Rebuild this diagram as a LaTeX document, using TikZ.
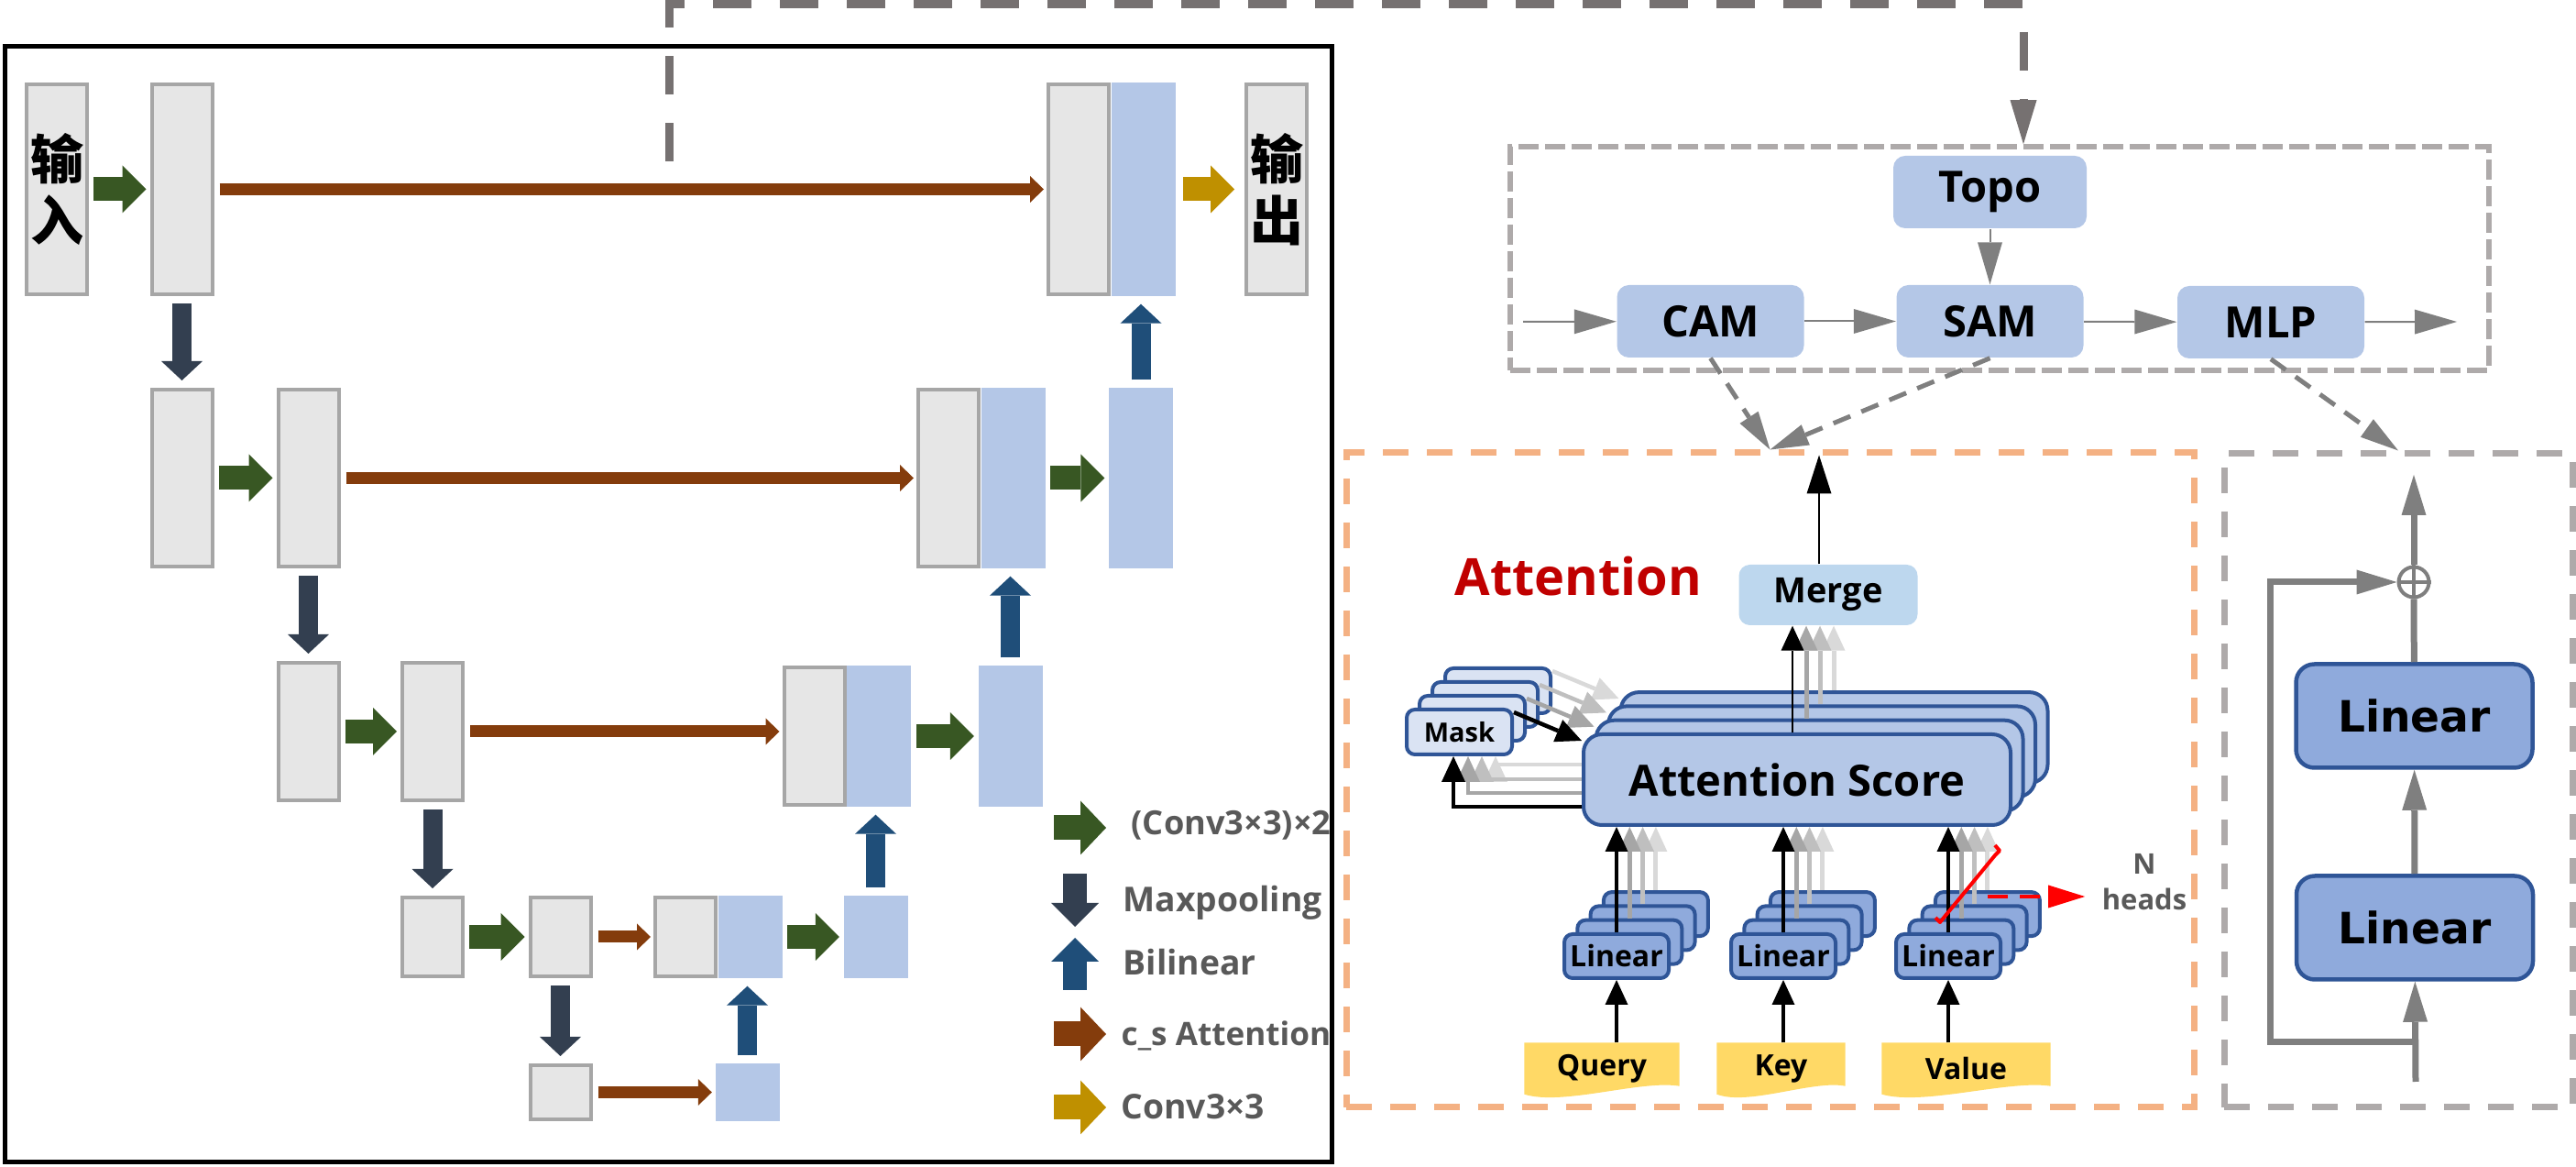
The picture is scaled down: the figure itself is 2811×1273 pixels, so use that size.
\documentclass[tikz,border=0pt]{standalone}
\usepackage{fontspec}
\setmainfont{Open Sans}
\newfontfamily\cjkfont{Noto Sans CJK SC}
\newfontfamily\wideface{DejaVu Sans}
\usepackage{tikz}
\usetikzlibrary{arrows.meta}
\usetikzlibrary{positioning}
\usetikzlibrary{backgrounds}
\usetikzlibrary{calc}

\definecolor{mapgray}{HTML}{E6E6E6}
\definecolor{mapedge}{HTML}{A6A6A6}
\definecolor{mapblue}{HTML}{B4C7E7}
\definecolor{convgreen}{HTML}{385723}
\definecolor{pooldark}{HTML}{333F50}
\definecolor{upblue}{HTML}{1F4E79}
\definecolor{attbrown}{HTML}{843C0C}
\definecolor{outgold}{HTML}{BF9000}
\definecolor{legtext}{HTML}{595959}
\definecolor{linkgray}{HTML}{767171}
\definecolor{boxgray}{HTML}{AEAAAA}
\definecolor{attorange}{HTML}{F4B183}
\definecolor{arrgray}{HTML}{7F7F7F}
\definecolor{attred}{HTML}{C00000}
\definecolor{mergeblue}{HTML}{BDD7EE}
\definecolor{maskblue}{HTML}{DAE3F3}
\definecolor{linblue}{HTML}{8FAADC}
\definecolor{edgeblue}{HTML}{2F5597}
\definecolor{qkvyellow}{HTML}{FFD966}
\definecolor{headA}{HTML}{A6A6A6}
\definecolor{headB}{HTML}{BFBFBF}
\definecolor{headC}{HTML}{D9D9D9}

% yellow input label with a wavy bottom
\newcommand{\wavefill}[1]{%
  \fill[qkvyellow] (#1.north west) -- (#1.north east) -- ([yshift=1mm]#1.south east)
    .. controls ($(#1.south)!0.5!(#1.south east)+(0,-17)$) and ($(#1.south)!0.5!(#1.south west)+(0,12)$)
    .. ([yshift=0.1mm]#1.south west) -- cycle;}

\begin{document}
\begin{tikzpicture}[x=0.1mm, y=-0.1mm,
    fmap/.style={draw=mapedge, line width=0.4mm, fill=mapgray, inner sep=0pt, minimum width=6.6mm},
    upmap/.style={fill=mapblue, inner sep=0pt, minimum width=7mm},
    blockarr/.style n args={4}{draw=#1, line width=#2, -{Triangle[length=#3, width=#4, line width=0pt]}},
    convarr/.style={blockarr={convgreen}{2.6mm}{2.6mm}{5.2mm}, shorten <=0.5mm, shorten >=0.4mm},
    poolarr/.style={blockarr={pooldark}{2.1mm}{2.1mm}{4.5mm}, shorten <=0.8mm, shorten >=0.8mm},
    uparr/.style={blockarr={upblue}{2.1mm}{2.1mm}{4.5mm}, shorten <=0.8mm, shorten >=0.8mm},
    attarr/.style={blockarr={attbrown}{1.3mm}{1.5mm}{2.9mm}, shorten <=0.6mm, shorten >=0.3mm},
    outarr/.style={blockarr={outgold}{2.6mm}{2.6mm}{5.2mm}, shorten <=0.8mm, shorten >=1.1mm},
    legend/.style={anchor=base west, inner sep=0pt, text=legtext, font=\bfseries\fontsize{10.6pt}{13pt}\selectfont},
    groupbox/.style={draw=#1, line width=0.7mm, dash pattern=on 2.8mm off 2mm, inner sep=0pt},
    modbox/.style={fill=mapblue, rounded corners=1.3mm, inner sep=0pt, minimum width=20.4mm, minimum height=7.9mm,
      font=\bfseries\fontsize{13.4pt}{16pt}\selectfont},
    flowarr/.style={draw=arrgray, line width=0.2mm, -{Triangle[length=4.6mm, width=2.7mm, line width=0pt]}},
    tapline/.style={draw=arrgray, line width=0.5mm, dash pattern=on 2mm off 1.3mm, -{Triangle[length=4.2mm, width=2.4mm, line width=0pt]}},
    linkline/.style={draw=linkgray, line width=0.9mm, dash pattern=on 4.2mm off 3.1mm, -{Triangle[length=4.8mm, width=2.9mm, line width=0pt]}},
    scorebox/.style={draw=edgeblue, line width=0.4mm, fill=mapblue, rounded corners=2mm, inner sep=0pt,
      minimum width=46.6mm, minimum height=9.9mm, font=\bfseries\fontsize{13.4pt}{16pt}\selectfont},
    maskbox/.style={draw=edgeblue, line width=0.4mm, fill=maskblue, rounded corners=0.9mm, inner sep=0pt,
      minimum width=11.5mm, minimum height=4.9mm, font=\bfseries\fontsize{8.25pt}{10pt}\selectfont},
    linbox/.style={draw=edgeblue, line width=0.4mm, fill=linblue, rounded corners=0.9mm, inner sep=0pt,
      minimum width=11.4mm, minimum height=4.8mm, font=\bfseries\fontsize{9.1pt}{11pt}\selectfont},
    mergebox/.style={fill=mergeblue, rounded corners=1.2mm, inner sep=0pt, minimum width=19.5mm, minimum height=6.6mm,
      font=\bfseries\fontsize{10.8pt}{13pt}\selectfont},
    qkvtext/.style={inner sep=0pt, minimum height=5.6mm, font=\bfseries\fontsize{9.1pt}{11pt}\selectfont},
    ffnlin/.style={draw=edgeblue, line width=0.45mm, fill=linblue, rounded corners=2mm, inner sep=0pt,
      minimum width=25.8mm, minimum height=11.3mm, font=\wideface\bfseries\fontsize{13.4pt}{16pt}\selectfont},
    scorearr/.style={line width=0.5mm, -{Triangle[length=2.7mm, width=2.5mm, line width=0pt]}},
    maskarr/.style={line width=0.45mm, -{Triangle[length=2.8mm, width=2.6mm, line width=0pt]}},
    qkvarr/.style={draw=black, line width=0.4mm, -{Triangle[length=2.7mm, width=2.5mm, line width=0pt]}},
    resarr/.style={draw=arrgray, line width=0.7mm, -{Triangle[length=4.4mm, width=2.7mm, line width=0pt]}},
    reddash/.style={draw=red, line width=0.45mm, dash pattern=on 2.2mm off 1.3mm, -{Triangle[length=4mm, width=2.5mm, line width=0pt]}}]
\useasboundingbox (0,0) rectangle (2811,1273);

% ---------------- U-Net ----------------
\node[draw=black, line width=0.5mm, inner sep=0pt, minimum width=144.8mm, minimum height=121.7mm] (unet) at (729,659.5) {};

\node[fmap, minimum height=22.9mm, align=center, font=\cjkfont\bfseries\fontsize{16.5pt}{19pt}\selectfont] (in) at (62,206.5) {输\\入};
\node[fmap, minimum height=22.9mm] (e1) at (198.5,206.5) {};
\node[fmap, minimum height=22.9mm] (d1) at (1177,206.5) {};
\node[upmap, minimum height=23.3mm, right=0pt of d1] (d1u) {};
\node[fmap, minimum height=22.9mm, align=center, font=\cjkfont\bfseries\fontsize{16.5pt}{19pt}\selectfont] (out) at (1393,206.5) {输\\出};

\node[fmap, minimum height=19.3mm] (e2a) at (198.5,521.5) {};
\node[fmap, minimum height=19.3mm] (e2b) at (336.5,521.5) {};
\node[fmap, minimum height=19.3mm] (d2) at (1035,521.5) {};
\node[upmap, minimum height=19.7mm, right=0pt of d2] (d2u) {};
\node[upmap, minimum height=19.7mm] (d2c) at (1245,521.5) {};

\node[fmap, minimum height=15mm] (e3a) at (336.5,798) {};
\node[fmap, minimum height=15mm] (e3b) at (472,798) {};
\node[fmap, minimum height=15mm] (d3) at (888.5,803) {};
\node[upmap, minimum height=15.4mm, right=0pt of d3] (d3u) {};
\node[upmap, minimum height=15.4mm] (d3c) at (1102.5,803) {};

\node[fmap, minimum height=8.6mm] (e4a) at (472,1022) {};
\node[fmap, minimum height=8.6mm] (e4b) at (611.5,1022) {};
\node[fmap, minimum height=8.6mm] (d4) at (748,1022) {};
\node[upmap, minimum height=9mm, right=0pt of d4] (d4u) {};
\node[upmap, minimum height=9mm] (d4c) at (955.5,1022) {};

\node[fmap, minimum height=5.9mm] (e5) at (611.5,1191.5) {};
\node[upmap, minimum height=6.3mm] (d5) at (815.5,1191.5) {};

\draw[convarr] (in) -- (e1);
\draw[convarr] (e2a) -- (e2b);
\draw[convarr] (e3a) -- (e3b);
\draw[convarr] (e4a) -- (e4b);
\draw[convarr] (d2u) -- (d2c);
\draw[convarr] (d3u) -- (d3c);
\draw[convarr] (d4u) -- (d4c);

\draw[poolarr] (e1) -- (e2a);
\draw[poolarr] (e2b) -- (e3a);
\draw[poolarr] (e3b) -- (e4a);
\draw[poolarr] (e4b) -- (e5);

\draw[uparr] (d5.north) -- (d5.north |- d4u.south);
\draw[uparr] (d4c.north) -- (d4c.north |- d3u.south);
\draw[uparr] (d3c.north) -- (d3c.north |- d2u.south);
\draw[uparr] (d2c.north) -- (d2c.north |- d1u.south);

\draw[attarr] (e1) -- (d1);
\draw[attarr] (e2b) -- (d2);
\draw[attarr] (e3b.east) -- (e3b.east -| d3.west);
\draw[attarr] (e4b) -- (d4);
\draw[attarr] (e5) -- (d5);

\draw[outarr] (d1u) -- (out);

% legend
\node[legend, font=\bfseries\fontsize{10.3pt}{12pt}\selectfont] (lgconv) at (1234,911) {(Conv3×3)×2};
\node[legend] (lgpool) at (1225,995) {Maxpooling};
\node[legend] (lgup) at (1225,1064) {Bilinear};
\node[legend, font=\bfseries\fontsize{10pt}{12pt}\selectfont] (lgatt) at (1223,1141) {c\_s Attention};
\node[legend] (lgout) at (1223,1221) {Conv3×3};
\draw[blockarr={convgreen}{2.7mm}{2.8mm}{5.9mm}] (1150,903) -- (1207,903);
\draw[blockarr={pooldark}{2.6mm}{2.6mm}{5.2mm}] (1173,953) -- (1173,1011);
\draw[blockarr={upblue}{2.6mm}{2.6mm}{5.2mm}] (1173,1080) -- (1173,1023);
\draw[blockarr={attbrown}{2.7mm}{2.8mm}{5.9mm}] (1150,1128) -- (1207,1128);
\draw[blockarr={outgold}{2.7mm}{2.8mm}{5.9mm}] (1150,1208) -- (1207,1208);

% ---------------- transformer block ----------------
\node[draw=boxgray, line width=0.55mm, dash pattern=on 2.2mm off 0.7mm, inner sep=0pt,
  minimum width=106.8mm, minimum height=24.4mm] (trans) at (2182,282) {};
\node[modbox, minimum width=21.1mm] (topo) at (2171.5,209.5) {Topo};
\node[modbox] (cam) at (1866.5,350.5) {CAM};
\node[modbox] (sam) at (2171.5,350.5) {SAM};
\node[modbox] (mlp) at (2478,351.5) {MLP};
\coordinate (tin) at (1662,351);
\coordinate (tout) at (2681,351);
\draw[flowarr] (tin) -- (cam);
\draw[flowarr] (cam) -- (sam);
\draw[flowarr] (sam) -- (mlp);
\draw[flowarr] (mlp) -- (tout);
\draw[flowarr] (topo) -- (sam);

\coordinate (tap) at (730,176);
\draw[linkline] (tap) -- (730,5) -| ([xshift=2.6mm]trans.north);

\node[groupbox=attorange, minimum width=92.5mm, minimum height=71.4mm] (attnbox) at (1931.5,851) {};
\node[groupbox=boxgray, minimum width=38mm, minimum height=71.3mm] (ffnbox) at (2617,851.5) {};

\draw[tapline] (cam.south) -- (attnbox.north);
\draw[tapline] (sam.south) -- (attnbox.north);
\draw[tapline] (mlp.south) -- (ffnbox.north);

% ---------------- attention ----------------
\node[anchor=base west, inner sep=0pt, text=attred, font=\bfseries\fontsize{15.9pt}{18pt}\selectfont] (atttitle) at (1587,650) {Attention};
\node[mergebox] (merge) at (1995,649) {Merge};
\draw[draw=black, line width=0.25mm, -{Triangle[length=4.2mm, width=2.7mm, line width=0pt]}, shorten >=0.6mm]
  ([xshift=-1mm]merge.north) -- ([xshift=-1mm]merge.north |- attnbox.north);

\foreach \k in {3,2,1}
  \node[scorebox] (sc\k) at ({1961+13.5*\k},{850.5-15.3*\k}) {};
\node[scorebox] (sc0) at (1961,850.5) {Attention Score};

\foreach \k in {3,2,1}
  \node[maskbox] (mk\k) at ({1592.5+14*\k},{798.5-15*\k}) {};
\node[maskbox] (mk0) at (1592.5,798.5) {Mask};

\foreach \n/\x in {lq/1764, lk/1946, lv/2126} {
  \foreach \k in {3,2,1}
    \node[linbox] (\n\k) at ({\x+14.3*\k},{1043-15.3*\k}) {};
  \node[linbox] (\n0) at (\x,1043) {Linear};
}

% heads into merge
\foreach \k/\dx/\col in {3/40/headC, 2/25/headB, 1/10/headA} {
  \path (sc0.north) ++(\dx,0) coordinate (m\k);
  \draw[scorearr, \col] (m\k |- sc\k.north) -- (m\k |- merge.south);
}
\path (sc0.north) ++(-5,0) coordinate (m0);
\draw[scorearr, black, line width=0.25mm] (m0 |- sc0.north) -- (m0 |- merge.south);

% mask loop
\foreach \k/\col in {3/headC, 2/headB, 1/headA, 0/black}
  \draw[maskarr, \col] ([yshift=-0.5mm]mk\k.north east) -- ([yshift=-0.9mm]sc\k.north west);
\foreach \dy/\dx/\col in {68/39.5/headC, 52/24.5/headB, 37/9.5/headA, 22/-6.5/black}
  \draw[maskarr, \col] ([yshift=\dy*0.1mm]sc0.south west) -| ([xshift=\dx*0.1mm]mk0.south);

% linear heads into the score
\foreach \n in {lq, lk, lv} {
  \foreach \k/\col in {3/headC, 2/headB, 1/headA}
    \draw[scorearr, \col] (\n\k.north) -- (\n\k.north |- sc0.south);
  \draw[qkvarr] (\n0.north) -- (\n0.north |- sc0.south);
}

% inputs
\node[qkvtext, minimum width=16.8mm] (qry) at (1748,1166) {Query};
\node[qkvtext, minimum width=13.9mm] (key) at (1943.5,1166) {Key};
\node[qkvtext, minimum width=18.3mm] (val) at (2145.5,1166) {Value};
\begin{scope}[on background layer]
  \wavefill{qry}
  \wavefill{key}
  \wavefill{val}
\end{scope}
\draw[qkvarr] (lq0.south |- qry.north) -- (lq0.south);
\draw[qkvarr] (lk0.south |- key.north) -- (lk0.south);
\draw[qkvarr] (lv0.south |- val.north) -- (lv0.south);

% N heads
\node[align=center, inner sep=0pt, text=legtext, font=\bfseries\fontsize{8.8pt}{11pt}\selectfont] (nh) at (2340,962) {N\\heads};
\draw[red, line width=0.4mm, line join=round] (2112,1001) -- (2117,1006) -- (2177,933) -- (2182,928) -- (2177,922);
\coordinate (rd) at (2169,978);
\draw[reddash, shorten >=1.8mm] (rd) -- (rd -| nh.west);

% ---------------- feed forward ----------------
\node[ffnlin] (fl2) at (2634.5,781) {Linear};
\node[ffnlin] (fl1) at (2635,1012) {Linear};
\node[circle, draw=arrgray, line width=0.4mm, minimum size=3.3mm, inner sep=0pt] (plus) at (2634,635) {};
\draw[arrgray, line width=0.4mm] (plus.west) -- (plus.east) (plus.north) -- (plus.south);
\coordinate (ffnsrc) at (2636,1180);
\coordinate (skip) at (2636,1137);
\coordinate (ffnout) at (2634,518);
\draw[resarr] (ffnsrc) -- (fl1);
\draw[resarr] (fl1) -- (fl2);
\draw[draw=arrgray, line width=0.7mm] (fl2) -- (plus);
\draw[resarr] (plus) -- (ffnout);
\draw[resarr] (skip) -- (skip -| 2477,0) |- (plus.west);
\end{tikzpicture}
\end{document}
